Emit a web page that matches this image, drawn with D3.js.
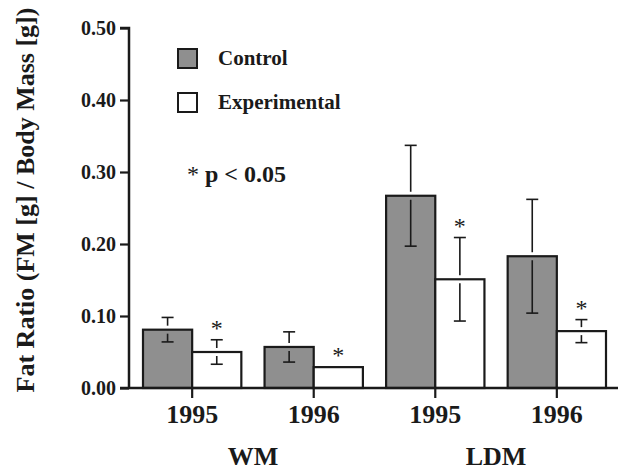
<!DOCTYPE html>
<html>
<head>
<meta charset="utf-8">
<script src="https://cdn.jsdelivr.net/npm/d3@7"></script>
<style>
  html, body { margin: 0; padding: 0; background: #fff; }
  svg { display: block; }
  text { font-family: "Liberation Serif", "Times New Roman", serif; fill: #1a1a1a; }
</style>
</head>
<body>
<svg id="chart" width="621" height="472"></svg>
<script>
// ---- data ----
const groups = ["WM 1995", "WM 1996", "LDM 1995", "LDM 1996"];
const yearLabels = ["1995", "1996", "1995", "1996"];
const sites = ["WM", "LDM"];
const siteGroups = [["WM 1995", "WM 1996"], ["LDM 1995", "LDM 1996"]];
const series = ["Control", "Experimental"];
const controlValues = [0.081, 0.057, 0.267, 0.183];
const controlErrors = [0.017, 0.021, 0.070, 0.079];
const experimentalValues = [0.050, 0.029, 0.151, 0.079];
const experimentalErrors = [0.017, 0.000, 0.058, 0.016];
const experimentalSignificant = [true, true, true, true];
const yTicks = [0.00, 0.10, 0.20, 0.30, 0.40, 0.50];
const yLabel = "Fat Ratio (FM [g] / Body Mass [g])";
const noteText = "* p < 0.05";

// ---- layout ----
const svg = d3.select("#chart");
const x0 = 129, yBase = 388, yTop = 28;
const colors = { Control: "#8f8f8f", Experimental: "#ffffff" };
const ink = "#1a1a1a";

const y = d3.scaleLinear().domain([0, 0.5]).range([yBase, yTop]);
const x = d3.scaleBand().domain(groups).range([143, 606]).paddingInner(0.191).paddingOuter(0);
const xs = d3.scaleBand().domain(series).range([0, x.bandwidth()]);

const rows = [];
groups.forEach((g, i) => {
  rows.push({ g, s: "Control", v: controlValues[i], e: controlErrors[i], sig: false });
  rows.push({ g, s: "Experimental", v: experimentalValues[i], e: experimentalErrors[i], sig: experimentalSignificant[i] });
});

// bars
svg.append("g").selectAll("rect").data(rows).join("rect")
  .attr("x", d => x(d.g) + xs(d.s))
  .attr("y", d => y(d.v))
  .attr("width", xs.bandwidth())
  .attr("height", d => y(0) - y(d.v))
  .attr("fill", d => colors[d.s])
  .attr("stroke", ink)
  .attr("stroke-width", 2.2);

// error bars (with a small gap at the bar top)
const gap = 4, capW = 12;
const eb = svg.append("g").attr("stroke", ink).attr("stroke-width", 1.6);
rows.filter(d => d.e > 0).forEach(d => {
  const cx = x(d.g) + xs(d.s) + xs.bandwidth() / 2;
  const top = y(d.v + d.e), bot = y(d.v - d.e), mid = y(d.v);
  eb.append("line").attr("x1", cx).attr("x2", cx).attr("y1", top).attr("y2", mid - gap);
  eb.append("line").attr("x1", cx).attr("x2", cx).attr("y1", mid + gap).attr("y2", bot);
  eb.append("line").attr("x1", cx - capW / 2).attr("x2", cx + capW / 2).attr("y1", top).attr("y2", top);
  eb.append("line").attr("x1", cx - capW / 2).attr("x2", cx + capW / 2).attr("y1", bot).attr("y2", bot);
});

// significance asterisks
svg.append("g").selectAll("text").data(rows.filter(d => d.sig)).join("text")
  .attr("x", d => x(d.g) + xs(d.s) + xs.bandwidth() / 2)
  .attr("y", d => y(d.v + d.e) - 4)
  .attr("text-anchor", "middle")
  .style("font-size", "24px")
  .text("*");

// y axis
const yAxis = d3.axisLeft(y).tickValues(yTicks).tickFormat(d3.format(".2f")).tickSize(9).tickPadding(4);
const gy = svg.append("g").attr("transform", `translate(${x0},0)`).call(yAxis);
gy.select(".domain").attr("stroke", ink).attr("stroke-width", 2.5).attr("d", `M-9,${yTop}H0V${yBase}`);
gy.selectAll(".tick line").attr("stroke", ink).attr("stroke-width", 2.2);
gy.selectAll(".tick text").style("font-size", "20px").style("font-weight", "bold")
  .style("font-family", '"Liberation Serif", serif').attr("fill", ink);

// x axis: ticks at the band centres (between the two bars)
const xAxis = d3.axisBottom(x).tickSize(10).tickFormat(() => "");
const gx = svg.append("g").attr("transform", `translate(0,${yBase})`).call(xAxis);
gx.select(".domain").attr("stroke", ink).attr("stroke-width", 2.5).attr("d", `M120,0H618`);
gx.selectAll(".tick line").attr("stroke", ink).attr("stroke-width", 2.2);

// year labels
svg.append("g").selectAll("text").data(groups).join("text")
  .attr("x", d => x(d) + x.bandwidth() / 2)
  .attr("y", 423)
  .attr("text-anchor", "middle")
  .style("font-size", "26px").style("font-weight", "bold")
  .text((d, i) => yearLabels[i]);

// site labels
svg.append("g").selectAll("text").data(sites).join("text")
  .attr("x", (d, i) => (x(siteGroups[i][0]) + x(siteGroups[i][1]) + x.bandwidth()) / 2)
  .attr("y", 465)
  .attr("text-anchor", "middle")
  .style("font-size", "26px").style("font-weight", "bold")
  .text(d => d);

// y label
svg.append("text")
  .attr("transform", "translate(34,200) rotate(-90)")
  .attr("text-anchor", "middle")
  .style("font-size", "26px").style("font-weight", "bold")
  .text(yLabel);

// legend
const lg = svg.append("g");
series.forEach((s, i) => {
  const ly = 49 + i * 44;
  lg.append("rect").attr("x", 178).attr("y", ly).attr("width", 19).attr("height", 19)
    .attr("fill", colors[s]).attr("stroke", ink).attr("stroke-width", 2);
  lg.append("text").attr("x", 218).attr("y", ly + 16)
    .style("font-size", "21px").style("font-weight", "bold").text(s);
});

// note
const note = svg.append("text").attr("x", 187).attr("y", 182).style("font-size", "24px").style("font-weight", "bold");
note.append("tspan").style("font-weight", "normal").text(noteText.slice(0, 1));
note.append("tspan").text(noteText.slice(1));
</script>
</body>
</html>
